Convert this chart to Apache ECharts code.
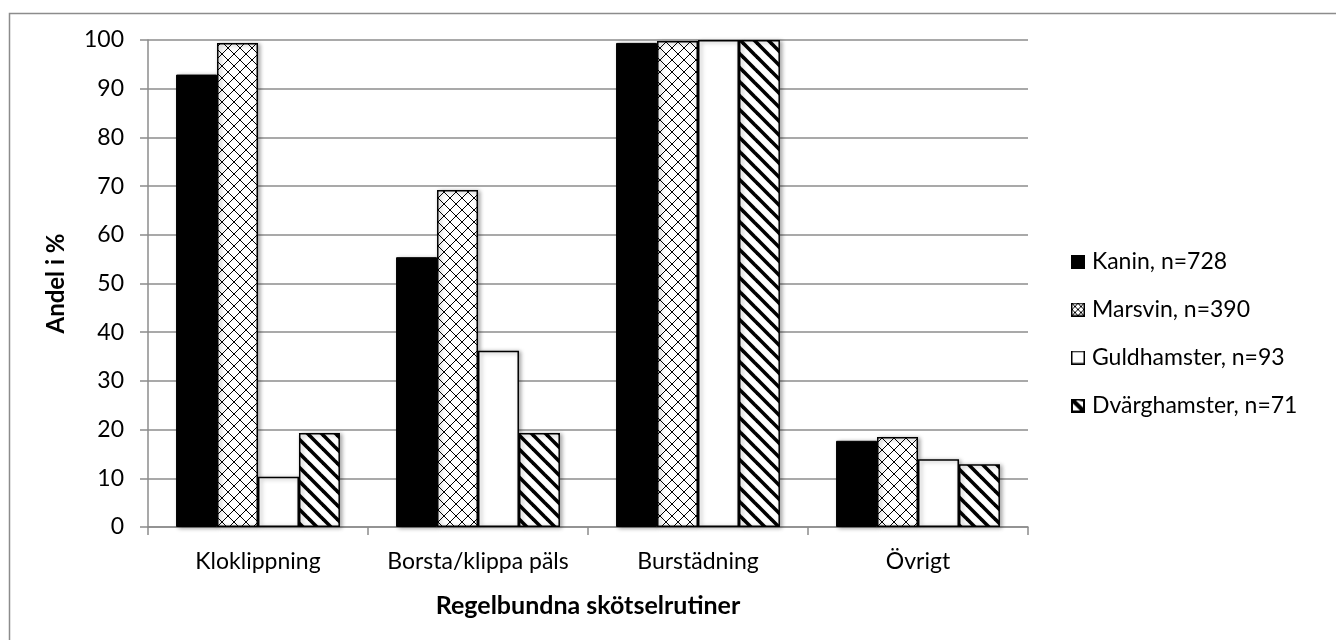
<!DOCTYPE html>
<html>
<head>
<meta charset="utf-8">
<script src="https://cdn.jsdelivr.net/npm/echarts@6/dist/echarts.min.js"></script>
<style>
html,body{margin:0;padding:0;background:#fff;}
#chart{width:1336px;height:640px;}
</style>
</head>
<body>
<div id="chart"></div>
<script>
const categories = ['Kloklippning', 'Borsta/klippa päls', 'Burstädning', 'Övrigt'];
const seriesNames = ['Kanin, n=728', 'Marsvin, n=390', 'Guldhamster, n=93', 'Dvärghamster, n=71'];
const kanin = [92.9, 55.4, 99.4, 17.7];
const marsvin = [99.4, 69.2, 99.8, 18.5];
const guldhamster = [10.3, 36.2, 100, 13.9];
const dvarghamster = [19.3, 19.3, 100, 12.9];
const yTicks = [0, 10, 20, 30, 40, 50, 60, 70, 80, 90, 100];

function makeCanvas(w, h) {
  const c = document.createElement('canvas');
  c.width = w; c.height = h;
  return c;
}
// cross-hatch pattern
const cross = makeCanvas(12, 12);
(function(){
  const g = cross.getContext('2d');
  g.fillStyle = '#fff'; g.fillRect(0,0,12,12);
  g.fillStyle = '#000';
  for (let i = 0; i < 12; i++) {
    g.fillRect(i, i, 1, 1);
    g.fillRect(11 - i, i, 1, 1);
  }
})();
// diagonal stripes (\)
const stripe = makeCanvas(14, 14);
(function(){
  const g = stripe.getContext('2d');
  g.fillStyle = '#fff'; g.fillRect(0,0,14,14);
  g.strokeStyle = '#000'; g.lineWidth = 3.6;
  for (let k = -1; k <= 1; k++) {
    g.beginPath();
    g.moveTo(-4, -4 + 14 * k);
    g.lineTo(18, 18 + 14 * k);
    g.stroke();
  }
})();
// legend icons
function icon(draw) {
  const c = makeCanvas(14, 14);
  const g = c.getContext('2d');
  draw(g);
  return 'image://' + c.toDataURL();
}
const iconKanin = icon(g => { g.fillStyle = '#000'; g.fillRect(0,0,14,14); });
const iconMarsvin = icon(g => {
  g.fillStyle = '#fff'; g.fillRect(0,0,14,14);
  g.strokeStyle = '#000'; g.lineWidth = 1.5; g.strokeRect(0.75,0.75,12.5,12.5);
  g.lineWidth = 1;
  g.beginPath(); g.moveTo(1,1); g.lineTo(13,13); g.moveTo(13,1); g.lineTo(1,13); g.stroke();
  g.beginPath(); g.moveTo(7,1); g.lineTo(13,7); g.lineTo(7,13); g.lineTo(1,7); g.closePath(); g.stroke();
});
const iconGuld = icon(g => {
  g.fillStyle = '#fff'; g.fillRect(0,0,14,14);
  g.strokeStyle = '#000'; g.lineWidth = 1.5; g.strokeRect(0.75,0.75,12.5,12.5);
});
const iconDvarg = icon(g => {
  g.fillStyle = '#000'; g.fillRect(0,0,14,14);
  g.fillStyle = '#fff';
  g.beginPath(); g.moveTo(3,2); g.lineTo(12,11); g.lineTo(12,3); g.lineTo(7,2); g.closePath(); g.fill();
  g.beginPath(); g.moveTo(2,5); g.lineTo(9,12); g.lineTo(2,12); g.closePath(); g.fill();
  g.fillStyle = '#000';
  g.beginPath(); g.moveTo(2,2); g.lineTo(12,12); g.lineTo(12,9); g.lineTo(5,2); g.closePath(); g.fill();
});

const FONT = 'Lato, "Open Sans", sans-serif';
const FS = 23;
const shadow = { shadowColor: 'rgba(0,0,0,0.35)', shadowBlur: 4, shadowOffsetX: 2, shadowOffsetY: 1 };

const chart = echarts.init(document.getElementById('chart'), null, { renderer: 'canvas' });
chart.setOption({
  animation: false,
  backgroundColor: '#fff',
  textStyle: { fontFamily: FONT },
  graphic: [{
    type: 'rect', left: 7, top: 11, silent: true,
    shape: { width: 1340, height: 640 },
    style: { fill: 'none', stroke: '#8c8c8c', lineWidth: 1.5 }
  }],
  grid: { left: 148, right: 308, top: 40, bottom: 113, containLabel: false },
  legend: {
    orient: 'vertical', left: 1066, top: 245,
    itemWidth: 14, itemHeight: 14, itemGap: 25,
    textStyle: { fontFamily: FONT, fontSize: FS, color: '#000', padding: [0, 0, 0, 2] },
    data: [
      { name: seriesNames[0], icon: iconKanin },
      { name: seriesNames[1], icon: iconMarsvin },
      { name: seriesNames[2], icon: iconGuld },
      { name: seriesNames[3], icon: iconDvarg }
    ]
  },
  xAxis: {
    type: 'category', data: categories,
    name: 'Regelbundna skötselrutiner', nameLocation: 'middle', nameGap: 66, nameMoveOverlap: false,
    nameTextStyle: { fontFamily: FONT, fontSize: 25, fontWeight: 'bold', color: '#000' },
    axisLine: { lineStyle: { color: '#8c8c8c', width: 1.5 } },
    axisTick: { show: true, length: 8, lineStyle: { color: '#8c8c8c', width: 1.5 } },
    axisLabel: { fontFamily: FONT, fontSize: FS, color: '#000', margin: 23, interval: 0, hideOverlap: false }
  },
  yAxis: {
    type: 'value', min: 0, max: 100, interval: 10,
    name: 'Andel i %', nameLocation: 'middle', nameGap: 80, nameRotate: 90, nameMoveOverlap: false,
    nameTextStyle: { fontFamily: FONT, fontSize: 24, fontWeight: 'bold', color: '#000' },
    axisLine: { show: true, lineStyle: { color: '#8c8c8c', width: 1.5 } },
    axisTick: { show: true, length: 8, lineStyle: { color: '#8c8c8c', width: 1.5 } },
    splitLine: { lineStyle: { color: '#8c8c8c', width: 1.5 } },
    axisLabel: {
      fontFamily: FONT, fontSize: FS, color: '#000', margin: 24,
      formatter: v => yTicks.includes(v) ? String(v) : ''
    }
  },
  series: [
    { name: seriesNames[0], type: 'bar', data: kanin, barGap: '0%', barCategoryGap: '25.5%',
      itemStyle: Object.assign({ color: '#000', borderColor: '#000', borderWidth: 1 }, shadow) },
    { name: seriesNames[1], type: 'bar', data: marsvin, barGap: '0%', barCategoryGap: '25.5%',
      itemStyle: Object.assign({ color: { image: cross, repeat: 'repeat' }, borderColor: '#000', borderWidth: 1.5 }, shadow) },
    { name: seriesNames[2], type: 'bar', data: guldhamster, barGap: '0%', barCategoryGap: '25.5%',
      itemStyle: Object.assign({ color: '#fff', borderColor: '#000', borderWidth: 1.5 }, shadow) },
    { name: seriesNames[3], type: 'bar', data: dvarghamster, barGap: '0%', barCategoryGap: '25.5%',
      itemStyle: Object.assign({ color: { image: stripe, repeat: 'repeat' }, borderColor: '#000', borderWidth: 1.5 }, shadow) }
  ]
});
</script>
</body>
</html>
